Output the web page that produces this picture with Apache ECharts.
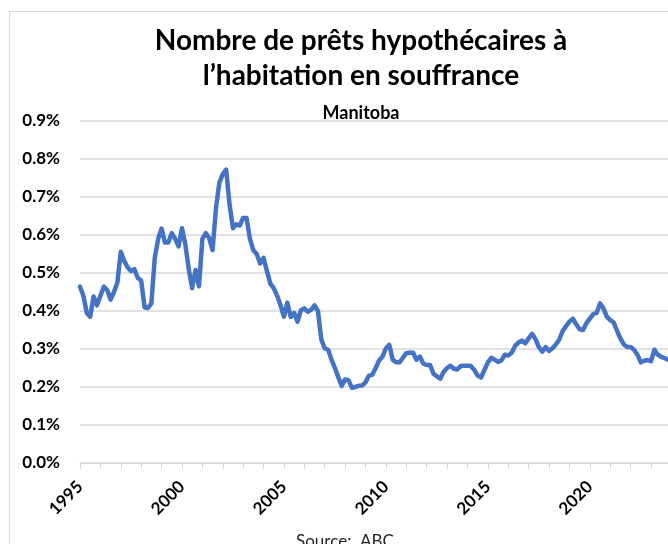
<!DOCTYPE html>
<html>
<head>
<meta charset="utf-8">
<script src="https://cdn.jsdelivr.net/npm/echarts@6/dist/echarts.min.js"></script>
<style>
  html, body { margin: 0; padding: 0; background: #fff; }
  #chart { width: 668px; height: 544px; }
</style>
</head>
<body>
<div id="chart"></div>
<script>
  // Manitoba, taux de prêts en souffrance (%), un point tous les deux mois depuis janv. 1995
  const startYear = 1995;
  const pointsPerYear = 6;
  const endYear = 2023.8333;
  const yTicks = [0, 0.1, 0.2, 0.3, 0.4, 0.5, 0.6, 0.7, 0.8, 0.9];
  const yearLabels = [1995, 2000, 2005, 2010, 2015, 2020];
  // prettier-ignore
  const taux = [
    0.464, 0.44, 0.395, 0.385, 0.438, 0.415, 0.44, 0.464, 0.455, 0.43,
    0.45, 0.475, 0.556, 0.532, 0.515, 0.505, 0.51, 0.487, 0.48, 0.41,
    0.408, 0.42, 0.54, 0.59, 0.617, 0.58, 0.58, 0.605, 0.59, 0.57,
    0.618, 0.575, 0.51, 0.46, 0.508, 0.465, 0.59, 0.605, 0.592, 0.56,
    0.67, 0.738, 0.76, 0.772, 0.68, 0.618, 0.628, 0.625, 0.645, 0.645,
    0.59, 0.56, 0.55, 0.525, 0.54, 0.505, 0.472, 0.46, 0.44, 0.415,
    0.385, 0.422, 0.384, 0.395, 0.372, 0.402, 0.407, 0.398, 0.403, 0.415,
    0.40, 0.325, 0.302, 0.298, 0.272, 0.25, 0.226, 0.203, 0.22, 0.218,
    0.198, 0.2, 0.203, 0.204, 0.212, 0.23, 0.232, 0.25, 0.27, 0.28,
    0.302, 0.311, 0.272, 0.265, 0.265, 0.277, 0.289, 0.29, 0.29, 0.272,
    0.28, 0.262, 0.258, 0.258, 0.235, 0.228, 0.222, 0.24, 0.25, 0.256,
    0.248, 0.246, 0.255, 0.256, 0.256, 0.255, 0.245, 0.23, 0.225, 0.245,
    0.265, 0.277, 0.272, 0.266, 0.27, 0.285, 0.283, 0.29, 0.308, 0.317,
    0.322, 0.315, 0.328, 0.34, 0.326, 0.305, 0.293, 0.305, 0.295, 0.302,
    0.312, 0.325, 0.347, 0.36, 0.372, 0.38, 0.365, 0.352, 0.35, 0.368,
    0.38, 0.392, 0.395, 0.42, 0.407, 0.385, 0.376, 0.37, 0.348, 0.328,
    0.312, 0.305, 0.305, 0.298, 0.285, 0.265, 0.269, 0.271, 0.268, 0.298,
    0.285, 0.279, 0.276, 0.272
  ];

  const chart = echarts.init(document.getElementById("chart"));
  const lineData = taux.map((v, i) => [startYear + i / pointsPerYear, v]);
  const fontFam = "Lato, 'Open Sans', sans-serif";

  const option = {
    animation: false,
    backgroundColor: "#fff",
    graphic: [
      {
        type: "rect",
        shape: { x: 9.5, y: 11.5, width: 900, height: 800 },
        style: { fill: "none", stroke: "#d9d9d9", lineWidth: 1 },
        silent: true,
      },
    ],
    title: [
      {
        text: "Nombre de prêts hypothécaires à\nl’habitation en souffrance",
        left: 356,
        top: 18,
        textAlign: "center",
        textStyle: {
          fontFamily: fontFam,
          fontWeight: "bold",
          fontSize: 28,
          lineHeight: 35,
          color: "#000",
        },
      },
      {
        text: "Manitoba",
        left: 356,
        top: 99,
        textAlign: "center",
        textStyle: {
          fontFamily: fontFam,
          fontWeight: "bold",
          fontSize: 18,
          color: "#000",
        },
      },
      {
        text: "Source:  ABC",
        left: 340,
        top: 528,
        textAlign: "center",
        textStyle: {
          fontFamily: fontFam,
          fontWeight: "normal",
          fontSize: 17,
          color: "#262626",
        },
      },
    ],
    grid: {
      left: 80,
      right: 0,
      top: 121,
      bottom: 81,
      containLabel: false,
    },
    xAxis: {
      type: "value",
      min: startYear,
      max: endYear,
      interval: 1,
      axisLine: { show: true, lineStyle: { color: "#d9d9d9", width: 1 } },
      axisTick: { show: true, length: 6, lineStyle: { color: "#d9d9d9" } },
      splitLine: { show: false },
      axisLabel: {
        rotate: 45,
        margin: 21,
        showMaxLabel: false,
        fontFamily: fontFam,
        fontWeight: "bold",
        fontSize: 17,
        color: "#000",
        formatter: (v) => (yearLabels.includes(v) ? String(v) : ""),
      },
    },
    yAxis: {
      type: "value",
      min: yTicks[0],
      max: yTicks[yTicks.length - 1],
      interval: 0.1,
      axisLine: { show: false },
      axisTick: { show: false },
      splitLine: { lineStyle: { color: "#d9d9d9", width: 1.5 } },
      axisLabel: {
        margin: 20,
        fontFamily: fontFam,
        fontWeight: "bold",
        fontSize: 17,
        color: "#000",
        formatter: (v) => v.toFixed(1) + "%",
      },
    },
    series: [
      {
        type: "line",
        data: lineData,
        showSymbol: false,
        smooth: false,
        lineStyle: { color: "#4472C4", width: 4.5, join: "round", cap: "round" },
        z: 5,
      },
    ],
  };

  chart.setOption(option);
</script>
</body>
</html>
